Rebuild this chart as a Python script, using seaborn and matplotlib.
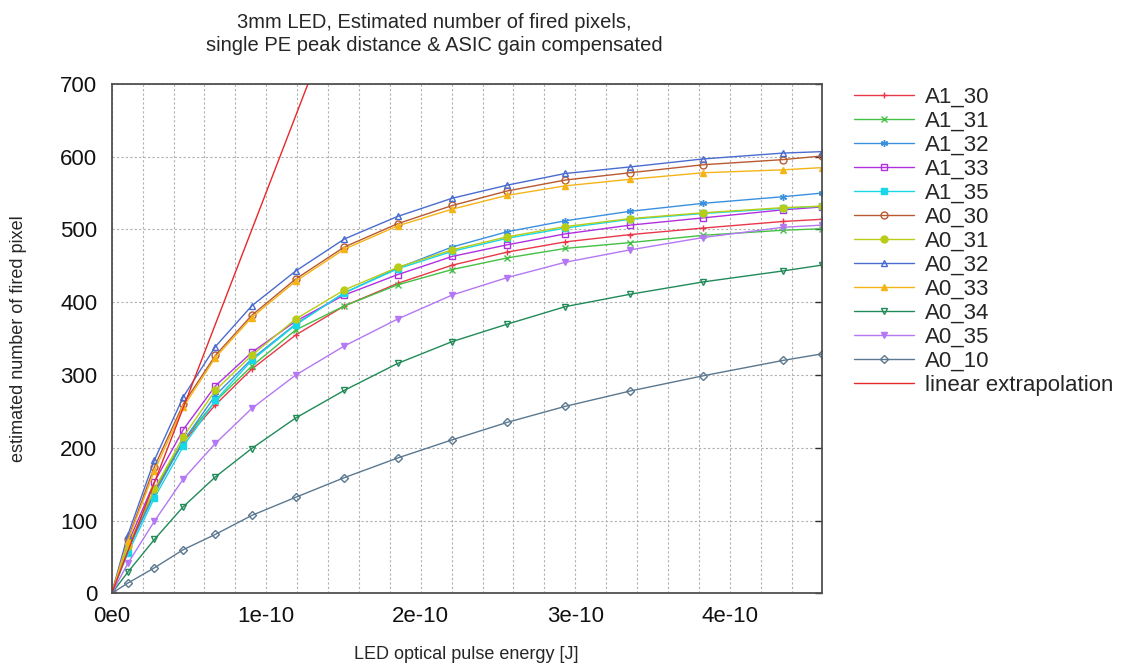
import numpy as np
import pandas as pd
import matplotlib
matplotlib.use("Agg")
import matplotlib.pyplot as plt
import seaborn as sns
from matplotlib.ticker import MultipleLocator, FuncFormatter

# pulse energy points [1e-10 J]
energy = [0.0, 0.104, 0.276, 0.463, 0.671, 0.906, 1.191, 1.506, 1.851,
          2.204, 2.561, 2.936, 3.355, 3.829, 4.343, 4.595]

A1_30 = [0, 62, 140, 208, 259, 308, 355, 395, 426, 451, 469, 483, 493, 502, 511, 514]
A1_31 = [0, 63, 142, 210, 264, 312, 362, 395, 424, 445, 461, 474, 482, 492, 499, 501]
A1_32 = [0, 60, 136, 209, 272, 322, 370, 413, 447, 476, 497, 512, 525, 536, 545, 550]
A1_33 = [0, 68, 153, 225, 285, 331, 374, 410, 438, 463, 479, 494, 506, 516, 527, 531]
A1_35 = [0, 55, 131, 202, 265, 320, 369, 413, 446, 470, 488, 502, 514, 522, 529, 532]
A0_30 = [0, 74, 174, 260, 327, 382, 432, 476, 508, 533, 553, 568, 578, 589, 596, 601]
A0_31 = [0, 65, 143, 215, 279, 327, 377, 417, 448, 472, 490, 504, 515, 523, 530, 532]
A0_32 = [0, 80, 183, 270, 339, 395, 443, 487, 518, 543, 561, 577, 586, 597, 605, 607]
A0_33 = [0, 72, 168, 256, 324, 379, 429, 473, 505, 528, 547, 560, 569, 578, 582, 585]
A0_34 = [0, 29, 74, 119, 160, 199, 241, 279, 316, 346, 370, 394, 411, 428, 443, 451]
A0_35 = [0, 41, 99, 157, 206, 254, 300, 340, 377, 410, 434, 455, 472, 489, 503, 506]
A0_10 = [0, 14, 35, 60, 81, 107, 132, 159, 186, 211, 235, 257, 278, 299, 320, 329]

# linear extrapolation (end point read where it leaves the plot)
lin_x = [0.0, 1.27]
lin_y = [0, 700]

series = [
    ("A1_30", A1_30, "#e8384a", "+", True),
    ("A1_31", A1_31, "#44c044", "x", True),
    ("A1_32", A1_32, "#3a90e0", (6, 2, 0), True),
    ("A1_33", A1_33, "#b030e0", "s", False),
    ("A1_35", A1_35, "#18d8e8", "s", True),
    ("A0_30", A0_30, "#b85a30", "o", False),
    ("A0_31", A0_31, "#b8cc18", "o", True),
    ("A0_32", A0_32, "#4a6cd0", "^", False),
    ("A0_33", A0_33, "#f4b418", "^", True),
    ("A0_34", A0_34, "#208a58", "v", False),
    ("A0_35", A0_35, "#b478f4", "v", True),
    ("A0_10", A0_10, "#5a7890", "D", False),
]

sns.set_style("white")
plt.rcParams["font.family"] = ["Liberation Sans", "DejaVu Sans"]

fig = plt.figure(figsize=(11.25, 6.68), dpi=100)
ax = fig.add_axes([0.0993, 0.1118, 0.6311, 0.7625])

x_J = np.array(energy) * 1e-10
for name, vals, col, mk, filled in series:
    df = pd.DataFrame({"E": x_J, "N": vals})
    ms = 5 if mk != "D" else 4
    sns.lineplot(data=df, x="E", y="N", ax=ax, color=col, lw=1.0,
                 marker=mk, markersize=ms, markeredgewidth=1.0,
                 markeredgecolor=col,
                 markerfacecolor=col if filled else "none",
                 label=name, clip_on=True)

lin = pd.DataFrame({"E": np.array(lin_x) * 1e-10, "N": lin_y})
sns.lineplot(data=lin, x="E", y="N", ax=ax, color="#e82828", lw=1.0,
             label="linear extrapolation")

ax.set_xlim(0, 4.595e-10)
ax.set_ylim(0, 700)
ax.xaxis.set_major_locator(MultipleLocator(1e-10))
ax.xaxis.set_minor_locator(MultipleLocator(0.2e-10))
ax.yaxis.set_major_locator(MultipleLocator(100))


def fmt_x(v, pos):
    if abs(v) < 1e-14:
        return "0e0"
    return "%de-10" % round(v / 1e-10)


ax.xaxis.set_major_formatter(FuncFormatter(fmt_x))

ax.grid(True, which="both", axis="x", color="#b0b0b0", ls=(0, (2, 2)), lw=0.8)
ax.grid(True, which="major", axis="y", color="#b0b0b0", ls=(0, (2, 2)), lw=0.8)
ax.tick_params(axis="both", which="both", direction="in", length=5,
               width=1.0, color="#303030", labelsize=16, labelcolor="#111111")
ax.tick_params(axis="x", which="both", pad=9)
ax.tick_params(axis="y", which="both", right=True, pad=10.5)
for s in ax.spines.values():
    s.set_color("#505050")
    s.set_linewidth(1.3)

ax.set_xlabel("LED optical pulse energy [J]", fontsize=13)
ax.set_ylabel("estimated number of fired pixel", fontsize=13)
ax.xaxis.set_label_coords(0.5, -0.104)
ax.yaxis.set_label_coords(-0.119, 0.5)
fig.text(0.386, 0.981, "3mm LED, Estimated number of fired pixels,\n"
         "single PE peak distance & ASIC gain compensated",
         fontsize=14.5, ha="center", va="top", linespacing=1.3)

ax.legend(loc="upper left", bbox_to_anchor=(1.033, 1.012), frameon=False,
          fontsize=16, handlelength=2.7, handletextpad=0.5,
          labelspacing=0.135, borderaxespad=0.0)

fig.savefig("out.png", dpi=100)
